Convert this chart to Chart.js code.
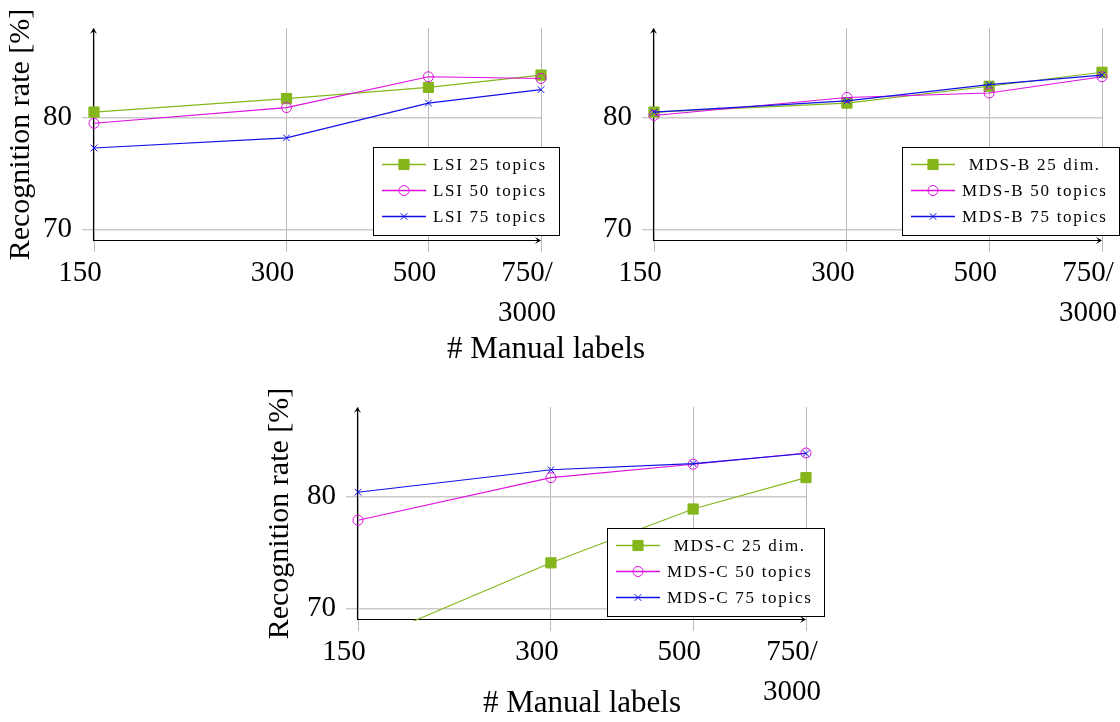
<!DOCTYPE html>
<html>
<head>
<meta charset="utf-8">
<script src="https://cdn.jsdelivr.net/npm/chart.js@4/dist/chart.umd.min.js"></script>
<style>
html,body{margin:0;padding:0;background:#fff;}
body{width:1120px;height:722px;position:relative;overflow:hidden;}
.box{position:absolute;}
canvas{display:block;}
#xlabTop{position:absolute;left:346px;width:400px;top:330px;text-align:center;font-family:"Liberation Serif",serif;font-size:31px;line-height:36px;color:#000;white-space:nowrap;}
</style>
</head>
<body>
<div class="box" style="left:0;top:0;"><canvas id="c1" width="560" height="360"></canvas></div>
<div class="box" style="left:560px;top:0;"><canvas id="c2" width="560" height="360"></canvas></div>
<div class="box" style="left:240px;top:380px;"><canvas id="c3" width="600" height="342"></canvas></div>
<div id="xlabTop"># Manual labels</div>
<script>
// ---------- data ----------
const xValues = [150, 300, 500, 750];
const xTickLabels = ['150', '300', '500', ['750/', '3000']];
const yTickValues = [70, 80];
const yTitle = 'Recognition rate [%]';
const xTitle = '# Manual labels';

const lsiLabels = ['LSI 25 topics', 'LSI 50 topics', 'LSI 75 topics'];
const lsi25 = [80.5, 81.7, 82.7, 83.8];
const lsi50 = [79.5, 80.9, 83.65, 83.5];
const lsi75 = [77.3, 78.2, 81.3, 82.5];

const mdsBLabels = ['MDS-B 25 dim.', 'MDS-B 50 topics', 'MDS-B 75 topics'];
const mdsB25 = [80.5, 81.3, 82.8, 84.05];
const mdsB50 = [80.2, 81.8, 82.2, 83.65];
const mdsB75 = [80.5, 81.5, 82.95, 83.8];

const mdsCLabels = ['MDS-C 25 dim.', 'MDS-C 50 topics', 'MDS-C 75 topics'];
const mdsC25 = [66.8, 74.1, 78.9, 81.7];
const mdsC50 = [77.9, 81.7, 82.9, 83.9];
const mdsC75 = [80.4, 82.4, 82.95, 83.85];

// ---------- styles ----------
const GREEN = '#85b61c', MAGENTA = '#dd11dd', BLUE = '#1010e8';
const styles = [
  {color: GREEN, pointStyle: 'rect', r: 7.2, fill: GREEN},
  {color: MAGENTA, pointStyle: 'circle', r: 5, fill: 'rgba(0,0,0,0)'},
  {color: BLUE, pointStyle: 'crossRot', r: 4.7, fill: BLUE}
];

Chart.defaults.font.family = '"Liberation Serif", serif';
Chart.defaults.color = '#000';

function makeDataset(label, arr, k) {
  const st = styles[k];
  return {
    label: label,
    data: xValues.map((x, i) => ({x: x, y: arr[i]})),
    borderColor: st.color,
    backgroundColor: st.color,
    borderWidth: 1.1,
    pointStyle: st.pointStyle,
    pointRadius: st.r,
    pointHoverRadius: st.r,
    pointBackgroundColor: st.fill,
    pointBorderColor: st.color,
    pointBorderWidth: 1,
    tension: 0,
    clip: {left: 12, top: 12, right: 12, bottom: 1},
    order: 3 - k
  };
}

function drawArrow(ctx, tx, ty, dx, dy) {
  const L = 6, W = 3.6;
  const nx = -dy, ny = dx;
  ctx.beginPath();
  ctx.moveTo(tx, ty);
  ctx.lineTo(tx - dx * L + nx * W, ty - dy * L + ny * W);
  ctx.lineTo(tx - dx * L * 0.55, ty - dy * L * 0.55);
  ctx.lineTo(tx - dx * L - nx * W, ty - dy * L - ny * W);
  ctx.closePath();
  ctx.fill();
}

const decor = {
  id: 'decor',
  beforeDatasetsDraw(chart) {
    const ctx = chart.ctx, a = chart.chartArea;
    ctx.save();
    ctx.strokeStyle = '#000';
    ctx.fillStyle = '#000';
    ctx.lineWidth = 1.1;
    ctx.beginPath();
    ctx.moveTo(a.left - 0.5, a.bottom);
    ctx.lineTo(a.left - 0.5, a.top + 3);
    ctx.moveTo(a.left - 0.5, a.bottom - 0.5);
    ctx.lineTo(a.right - 3, a.bottom - 0.5);
    ctx.stroke();
    drawArrow(ctx, a.left - 0.5, a.top, 0, -1);
    drawArrow(ctx, a.right, a.bottom - 0.5, 1, 0);
    ctx.restore();
  },
  afterDatasetsDraw(chart, args, opts) {
    if (!opts || opts.right === undefined) return;
    const ctx = chart.ctx;
    const list = chart.data.datasets;
    ctx.save();
    ctx.font = '17px "Liberation Serif"';
    try { ctx.letterSpacing = '1.7px'; } catch (e) {}
    const widths = list.map(d => ctx.measureText(d.label).width);
    const maxW = Math.max.apply(null, widths);
    const boxW = Math.round(60 + maxW + 12);
    const left = Math.round(opts.right - boxW), top = Math.round(opts.top), h = 88;
    ctx.fillStyle = '#fff';
    ctx.fillRect(left, top, boxW, h);
    ctx.strokeStyle = '#000';
    ctx.lineWidth = 1;
    ctx.strokeRect(left + 0.5, top + 0.5, boxW, h);
    list.forEach((d, i) => {
      const y = Math.round(top + 17 + i * 26) + 0.5;
      ctx.strokeStyle = d.borderColor;
      ctx.lineWidth = 1.4;
      ctx.beginPath();
      ctx.moveTo(left + 9, y);
      ctx.lineTo(left + 53, y);
      ctx.stroke();
      ctx.fillStyle = d.pointBackgroundColor;
      ctx.strokeStyle = d.pointBorderColor;
      ctx.lineWidth = d.pointBorderWidth;
      Chart.helpers.drawPoint(ctx, {pointStyle: d.pointStyle, radius: d.pointRadius, rotation: 0, borderWidth: d.pointBorderWidth}, left + 31, y);
      ctx.fillStyle = '#000';
      ctx.textAlign = 'center';
      ctx.textBaseline = 'middle';
      ctx.fillText(d.label, left + 60 + maxW / 2, y + 1);
    });
    ctx.restore();
  }
};

function zeroPad(s) { s.paddingLeft = 0; s.paddingRight = 0; s.paddingTop = 0; s.paddingBottom = 0; }

function makeChart(id, labels, series, cfg) {
  const datasets = series.map((arr, k) => makeDataset(labels[k], arr, k));
  const canvas = document.getElementById(id);
  return new Chart(canvas, {
    type: 'line',
    data: {datasets: datasets},
    options: {
      responsive: false,
      animation: false,
      events: [],
      layout: {padding: cfg.padding},
      plugins: {
        legend: {display: false},
        tooltip: {enabled: false},
        decor: cfg.legend
      },
      scales: {
        x: {
          type: 'logarithmic',
          min: 150, max: 750, bounds: 'data',
          afterBuildTicks: s => { s.ticks = xValues.map(v => ({value: v})); },
          afterFit: s => { s.height = cfg.xHeight; zeroPad(s); },
          ticks: {
            autoSkip: false, maxRotation: 0, minRotation: 0,
            labelOffset: -14, padding: 1, color: '#000',
            font: {size: 29, lineHeight: '40px'},
            callback: (v, i) => xTickLabels[i]
          },
          grid: {color: '#bababa', lineWidth: 1, tickLength: 11, drawTicks: true},
          border: {display: false},
          title: cfg.xTitle ? {display: true, text: xTitle, color: '#000', font: {size: 31, lineHeight: 1.2}, padding: {top: 0, bottom: 0}} : {display: false}
        },
        y: {
          type: 'linear',
          min: 69, max: 88, bounds: 'data',
          afterBuildTicks: s => { s.ticks = yTickValues.map(v => ({value: v})); },
          afterFit: s => { s.width = cfg.yWidth; zeroPad(s); },
          ticks: {padding: 10, color: '#000', font: {size: 29}},
          grid: {color: '#cacaca', lineWidth: 1.4, tickLength: 12, drawTicks: true},
          border: {display: false},
          title: cfg.yTitle ? {display: true, text: yTitle, color: '#000', font: {size: 30, lineHeight: 1.2}, padding: {top: 3, bottom: 0}} : {display: false}
        }
      }
    },
    plugins: [decor]
  });
}

makeChart('c1', lsiLabels, [lsi25, lsi50, lsi75], {
  padding: {left: 0, top: 28, right: 19, bottom: 0},
  yWidth: 94, xHeight: 119, yTitle: true, xTitle: false,
  legend: {right: 559, top: 147}
});
makeChart('c2', mdsBLabels, [mdsB25, mdsB50, mdsB75], {
  padding: {left: 0, top: 28, right: 18, bottom: 0},
  yWidth: 94, xHeight: 119, yTitle: false, xTitle: false,
  legend: {right: 559, top: 147}
});
makeChart('c3', mdsCLabels, [mdsC25, mdsC50, mdsC75], {
  padding: {left: 19, top: 27, right: 34, bottom: 0},
  yWidth: 99, xHeight: 102, yTitle: true, xTitle: true,
  legend: {right: 584, top: 148}
});
</script>
</body>
</html>
